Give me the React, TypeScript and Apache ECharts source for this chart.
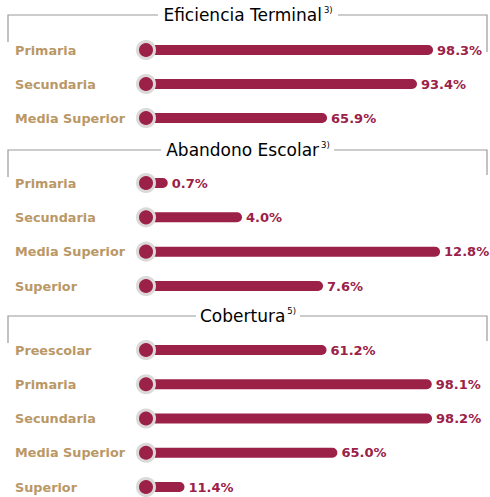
import React, { useEffect, useRef } from "react";
import * as echarts from "echarts";

const titles = ["Eficiencia Terminal", "Abandono Escolar", "Cobertura"];
const notes = ["3)", "3)", "5)"];
const categories1 = ["Primaria", "Secundaria", "Media Superior"];
const values1 = [98.3, 93.4, 65.9];
const categories2 = ["Primaria", "Secundaria", "Media Superior", "Superior"];
const values2 = [0.7, 4.0, 12.8, 7.6];
const categories3 = ["Preescolar", "Primaria", "Secundaria", "Media Superior", "Superior"];
const values3 = [61.2, 98.1, 98.2, 65.0, 11.4];

const MAROON = "#9B2148";
const GOLD = "#BA9866";
const GRAY = "#9a9a9a";

export default function App() {
  const ref = useRef<HTMLDivElement>(null);
  useEffect(() => {
    if (!ref.current) return;
    const chart = echarts.init(ref.current, undefined, { renderer: "svg" });
    const sections = [
      { cats: categories1, vals: values1, top: 50, height: 68, min: 10.55, max: 109.6 },
      { cats: categories2, vals: values2, top: 183, height: 103, min: -0.267, max: 14.13 },
      { cats: categories3, vals: values3, top: 350, height: 137, min: -2.1, max: 111.5 },
    ];
    const grid: any[] = [];
    const xAxis: any[] = [];
    const yAxis: any[] = [];
    const series: any[] = [];
    sections.forEach((s, i) => {
      grid.push({ left: 146, width: 324, top: s.top, height: s.height });
      xAxis.push({ type: "value", gridIndex: i, min: s.min, max: s.max, show: false });
      yAxis.push({
        type: "category",
        gridIndex: i,
        data: s.cats,
        inverse: true,
        boundaryGap: false,
        axisLine: { show: false },
        axisTick: { show: false },
        splitLine: { show: false },
        axisLabel: {
          align: "left",
          margin: 131,
          color: GOLD,
          fontFamily: "DejaVu Sans",
          fontWeight: "bold",
          fontSize: 12.8,
        },
      });
      series.push({
        type: "bar",
        xAxisIndex: i,
        yAxisIndex: i,
        data: s.vals,
        barWidth: 10,
        clip: true,
        z: 2,
        itemStyle: { color: MAROON, borderRadius: [0, 5, 5, 0] },
        label: {
          show: true,
          position: "right",
          distance: 4,
          color: MAROON,
          fontFamily: "DejaVu Sans",
          fontWeight: "bold",
          fontSize: 13,
          formatter: (p: any) => `${Number(p.value).toFixed(1)}%`,
        },
      });
      series.push({
        type: "scatter",
        xAxisIndex: i,
        yAxisIndex: i,
        data: s.cats.map((_c, k) => [s.min, k]),
        symbol: "circle",
        symbolSize: 17,
        clip: false,
        z: 5,
        itemStyle: { color: MAROON, borderColor: "#dcd9d9", borderWidth: 3, opacity: 1 },
        emphasis: { disabled: true },
      });
    });

    const titleY = [15, 150, 316];
    const lineL = [158, 161, 196];
    const lineR = [338, 334, 300];
    const graphic: any[] = [];
    titles.forEach((t, i) => {
      const y = titleY[i];
      graphic.push({
        type: "text",
        x: 248,
        y: y,
        style: {
          x: 0,
          y: 0,
          text: `{t|${t}}{s|${notes[i]}}`,
          align: "center",
          verticalAlign: "middle",
          rich: {
            t: { fontSize: 17, fontFamily: "DejaVu Sans", color: "#505050" },
            s: { fontSize: 8.5, fontFamily: "DejaVu Sans", color: "#505050", verticalAlign: "top", padding: [0, 0, 10, 2] },
          },
        },
      });
      graphic.push({
        type: "polyline",
        shape: { points: [[8, y + 27], [8, y], [lineL[i], y]] },
        style: { stroke: GRAY, lineWidth: 1.2, fill: null },
      });
      graphic.push({
        type: "polyline",
        shape: { points: [[lineR[i], y], [487, y], [487, y + (i === 0 ? 37 : 25)]] },
        style: { stroke: GRAY, lineWidth: 1.2, fill: null },
      });
    });

    chart.setOption({
      animation: false,
      backgroundColor: "#ffffff",
      grid,
      xAxis,
      yAxis,
      series,
      graphic,
    });
    return () => chart.dispose();
  }, []);
  return (
    <div
      ref={ref}
      style={{ position: "absolute", left: 0, top: 0, width: 490, height: 497 }}
    />
  );
}
